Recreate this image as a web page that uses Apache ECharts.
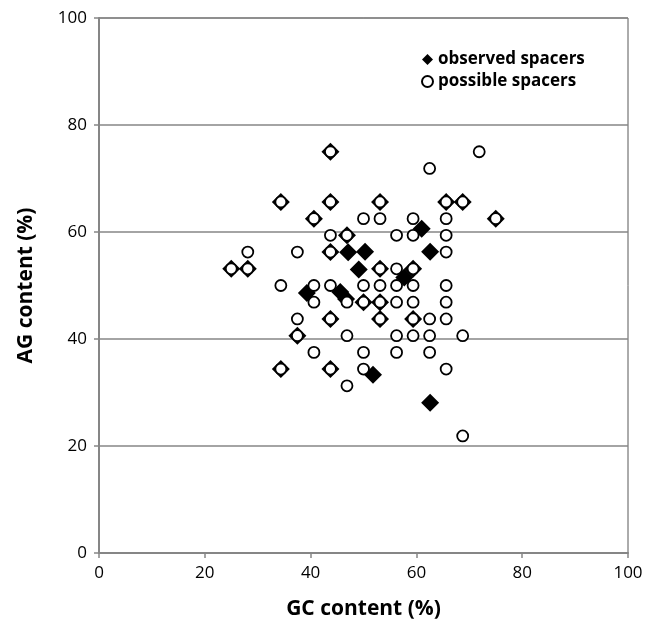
<!DOCTYPE html>
<html>
<head>
<meta charset="utf-8">
<script src="https://cdn.jsdelivr.net/npm/echarts@6/dist/echarts.min.js"></script>
<style>
  html, body { margin: 0; padding: 0; background: #fff; }
  #chart { width: 660px; height: 629px; }
</style>
</head>
<body>
<div id="chart"></div>
<script>
  // observed spacers (filled diamonds)
  const observedGC = [25, 28.125, 34.375, 34.375, 37.5, 40.625, 43.75, 43.75, 43.75, 43.75, 43.75,
    46.875, 50, 53.125, 53.125, 53.125, 53.125, 59.375, 59.375, 65.625, 68.75, 75,
    39.3, 45.6, 46.7, 47.1, 50.3, 49.1, 57.7, 61, 62.6, 51.8, 62.6];
  const observedAG = [53.125, 53.125, 65.625, 34.375, 40.625, 62.5, 75, 65.625, 56.25, 43.75, 34.375,
    59.375, 46.875, 65.625, 53.125, 46.875, 43.75, 53.125, 43.75, 65.625, 65.625, 62.5,
    48.6, 48.8, 47.5, 56.2, 56.3, 53.0, 51.5, 60.6, 56.3, 33.3, 28.1];

  // possible spacers (open circles)
  const possibleGC = [25, 28.125, 34.375, 34.375, 37.5, 40.625, 43.75, 43.75, 43.75, 43.75, 43.75,
    46.875, 50, 53.125, 53.125, 53.125, 53.125, 59.375, 59.375, 65.625, 68.75, 75,
    28.125, 34.375, 37.5, 37.5, 40.625, 40.625, 40.625, 43.75, 43.75, 46.875, 46.875, 46.875,
    50, 50, 50, 50, 53.125, 53.125, 56.25, 56.25, 56.25, 56.25, 56.25, 56.25,
    59.375, 59.375, 59.375, 59.375, 59.375, 62.5, 62.5, 62.5, 62.5,
    65.625, 65.625, 65.625, 65.625, 65.625, 65.625, 65.625, 68.75, 68.75, 71.875];
  const possibleAG = [53.125, 53.125, 65.625, 34.375, 40.625, 62.5, 75, 65.625, 56.25, 43.75, 34.375,
    59.375, 46.875, 65.625, 53.125, 46.875, 43.75, 53.125, 43.75, 65.625, 65.625, 62.5,
    56.25, 50, 56.25, 43.75, 50, 46.875, 37.5, 59.375, 50, 46.875, 40.625, 31.25,
    62.5, 50, 37.5, 34.375, 62.5, 50, 59.375, 53.125, 50, 46.875, 40.625, 37.5,
    62.5, 59.375, 50, 46.875, 40.625, 71.875, 43.75, 40.625, 37.5,
    62.5, 59.375, 56.25, 50, 46.875, 43.75, 34.375, 40.625, 21.875, 75];

  const xTicks = [0, 20, 40, 60, 80, 100];
  const yTicks = [0, 20, 40, 60, 80, 100];

  const zip = (xs, ys) => xs.map((x, i) => [x, ys[i]]);
  const font = '"Open Sans", "Liberation Sans", sans-serif';
  const axisGray = '#868686';

  const chart = echarts.init(document.getElementById('chart'));
  chart.setOption({
    animation: false,
    backgroundColor: '#fff',
    grid: {
      left: 99, right: 32, top: 18, bottom: 76,
      show: true, borderColor: '#595959', borderWidth: 1
    },
    legend: {
      orient: 'vertical',
      left: 416, top: 46,
      itemGap: 5, itemWidth: 11, itemHeight: 11,
      textStyle: { fontFamily: font, fontSize: 17, fontWeight: 'bold', color: '#000' },
      data: [
        { name: 'observed spacers', icon: 'diamond' },
        { name: 'possible spacers', icon: 'circle' }
      ]
    },
    xAxis: {
      type: 'value',
      min: xTicks[0], max: xTicks[xTicks.length - 1], interval: 20,
      name: 'GC content (%)', nameLocation: 'middle', nameGap: 46,
      nameTextStyle: { fontFamily: font, fontSize: 21, fontWeight: 'bold', color: '#000' },
      axisLine: { lineStyle: { color: axisGray, width: 2 } },
      axisTick: { show: true, length: 5, lineStyle: { color: axisGray, width: 1.5 } },
      axisLabel: { fontFamily: font, fontSize: 17, color: '#000', margin: 12 },
      splitLine: { show: false }
    },
    yAxis: {
      type: 'value',
      min: yTicks[0], max: yTicks[yTicks.length - 1], interval: 20,
      name: 'AG content (%)', nameLocation: 'middle', nameGap: 62,
      nameTextStyle: { fontFamily: font, fontSize: 21, fontWeight: 'bold', color: '#000' },
      axisLine: { show: true, lineStyle: { color: axisGray, width: 2 } },
      axisTick: { show: true, length: 5, lineStyle: { color: axisGray, width: 1.5 } },
      axisLabel: { fontFamily: font, fontSize: 17, color: '#000', margin: 12 },
      splitLine: { show: true, lineStyle: { color: axisGray, width: 1.5 } }
    },
    series: [
      {
        name: 'observed spacers',
        type: 'scatter',
        symbol: 'diamond',
        symbolSize: 18,
        itemStyle: { color: '#000', opacity: 1 },
        data: zip(observedGC, observedAG)
      },
      {
        name: 'possible spacers',
        type: 'scatter',
        symbol: 'circle',
        symbolSize: 11,
        itemStyle: { color: '#fff', borderColor: '#000', borderWidth: 1.8, opacity: 1 },
        data: zip(possibleGC, possibleAG)
      }
    ]
  });
</script>
</body>
</html>
